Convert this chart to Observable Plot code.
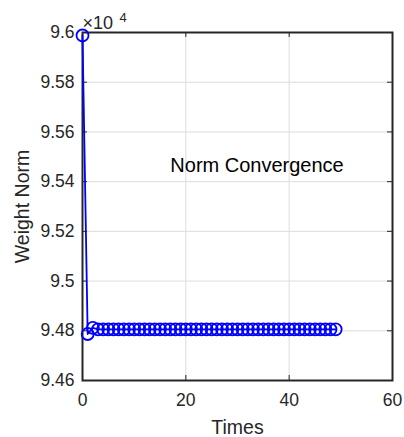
<!DOCTYPE html>
<html>
<head>
<meta charset="utf-8">
<script src="https://cdn.jsdelivr.net/npm/d3@7"></script>
<script src="https://cdn.jsdelivr.net/npm/@observablehq/plot@0.6"></script>
<style>
  html, body { margin: 0; padding: 0; background: #fff; }
  svg { display: block; }
</style>
</head>
<body>
<div id="chart"></div>
<script>
// Iteration index and the weight norm (in units of 10^4) at each iteration
const times = d3.range(0, 50);
const normValues = [
  9.5988, 9.4787, 9.4812,
  9.4806, 9.4806, 9.4806, 9.4806, 9.4806, 9.4806, 9.4806, 9.4806, 9.4806, 9.4806,
  9.4806, 9.4806, 9.4806, 9.4806, 9.4806, 9.4806, 9.4806, 9.4806, 9.4806, 9.4806,
  9.4806, 9.4806, 9.4806, 9.4806, 9.4806, 9.4806, 9.4806, 9.4806, 9.4806, 9.4806,
  9.4806, 9.4806, 9.4806, 9.4806, 9.4806, 9.4806, 9.4806, 9.4806, 9.4806, 9.4806,
  9.4806, 9.4806, 9.4806, 9.4806, 9.4806, 9.4806, 9.4806
];
const xTicks = [0, 20, 40, 60];
const yTicks = [9.46, 9.48, 9.5, 9.52, 9.54, 9.56, 9.58, 9.6];
const yTickLabels = ["9.46", "9.48", "9.5", "9.52", "9.54", "9.56", "9.58", "9.6"];
const xLabel = "Times";
const yLabel = "Weight Norm";
const annotation = [{x: 17, y: 9.5465, label: "Norm Convergence"}];

const data = times.map((t, i) => ({t, v: normValues[i]}));

const W = 404, H = 437;
const mt = 32, mb = 57, ml = 82, mr = 12;
const innerH = H - mt - mb, innerW = W - ml - mr;
const tickLen = 5;
const lineColor = "#262626";

const chart = Plot.plot({
  width: W,
  height: H,
  marginTop: mt,
  marginBottom: mb,
  marginLeft: ml,
  marginRight: mr,
  style: {fontFamily: "Liberation Sans, Arial, sans-serif", background: "#fff", overflow: "visible"},
  x: {domain: [0, 60]},
  y: {domain: [9.46, 9.6]},
  marks: [
    Plot.gridX(xTicks, {stroke: "#dcdcdc", strokeOpacity: 1, strokeWidth: 1}),
    Plot.gridY(yTicks, {stroke: "#dcdcdc", strokeOpacity: 1, strokeWidth: 1}),
    // inward ticks on all four sides
    Plot.tickX(xTicks, {x: d => d, insetTop: innerH - tickLen, stroke: lineColor, strokeWidth: 1}),
    Plot.tickX(xTicks, {x: d => d, insetBottom: innerH - tickLen, stroke: lineColor, strokeWidth: 1}),
    Plot.tickY(yTicks, {y: d => d, insetRight: innerW - tickLen, stroke: lineColor, strokeWidth: 1}),
    Plot.tickY(yTicks, {y: d => d, insetLeft: innerW - tickLen, stroke: lineColor, strokeWidth: 1}),
    Plot.axisX(xTicks, {tickSize: 0, tickPadding: 13, fontSize: 17.5, fill: lineColor, label: null}),
    Plot.axisY(yTicks, {tickSize: 0, tickPadding: 8, fontSize: 17.5, fill: lineColor,
      tickFormat: (d, i) => yTickLabels[i], label: null}),
    // axis titles
    Plot.text([xLabel], {frameAnchor: "bottom", dy: 47, textAnchor: "middle", lineAnchor: "middle", fontSize: 19.5, fill: lineColor}),
    Plot.text([yLabel], {frameAnchor: "left", dx: -60, rotate: -90, textAnchor: "middle", lineAnchor: "middle", fontSize: 19.5, fill: lineColor}),
    Plot.frame({stroke: lineColor, strokeWidth: 2}),
    Plot.line(data, {x: "t", y: "v", stroke: "#0000ff", strokeWidth: 1.8}),
    Plot.dot(data, {x: "t", y: "v", r: 6, stroke: "#0000ff", strokeWidth: 1.8, fill: "none"}),
    Plot.text(annotation, {x: "x", y: "y", text: "label", textAnchor: "start", fontSize: 20, fill: "#000"}),
    // exponent multiplier above the y axis
    Plot.text(["×10"], {frameAnchor: "top-left", dx: 0, dy: -9, textAnchor: "start", lineAnchor: "middle", fontSize: 18, fill: lineColor}),
    Plot.text(["4"], {frameAnchor: "top-left", dx: 37, dy: -15, textAnchor: "start", lineAnchor: "middle", fontSize: 13, fill: lineColor})
  ]
});

document.getElementById("chart").appendChild(chart);
</script>
</body>
</html>
